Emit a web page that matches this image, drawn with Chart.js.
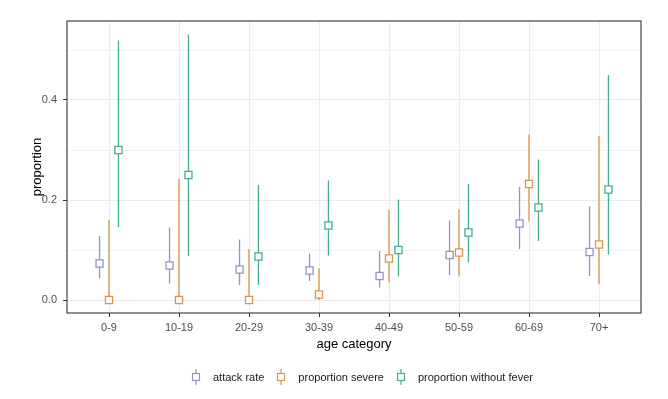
<!DOCTYPE html>
<html>
<head>
<meta charset="utf-8">
<script src="https://cdn.jsdelivr.net/npm/chart.js@4.4.0/dist/chart.umd.min.js"></script>
<style>
  html, body { margin: 0; padding: 0; background: #fff; }
  #wrap { width: 668px; height: 399px; position: relative; }
  #legend { position: absolute; left: 190px; top: 368px; height: 18px; display: flex; align-items: center;
            font-family: "Liberation Sans", Arial, sans-serif; font-size: 11px; color: #1a1a1a; }
  #legend .item { display: flex; align-items: center; margin-right: 11px; }
  #legend canvas { display: block; margin-right: 11px; }
</style>
</head>
<body>
<div id="wrap"><canvas id="ageChart"></canvas><div id="legend"></div></div>
<script>
// data
const ageCats = ["0-9", "10-19", "20-29", "30-39", "40-49", "50-59", "60-69", "70+"];

const attackRate    = [0.073, 0.069, 0.061, 0.059, 0.048, 0.090, 0.153, 0.096];
const attackLow     = [0.043, 0.033, 0.030, 0.038, 0.025, 0.050, 0.102, 0.048];
const attackHigh    = [0.128, 0.145, 0.121, 0.093, 0.098, 0.159, 0.226, 0.187];

const severe        = [0.000, 0.000, 0.000, 0.011, 0.083, 0.095, 0.232, 0.111];
const severeLow     = [0.000, 0.000, 0.000, 0.000, 0.035, 0.047, 0.157, 0.032];
const severeHigh    = [0.160, 0.242, 0.102, 0.063, 0.180, 0.181, 0.331, 0.328];

const noFever       = [0.300, 0.250, 0.087, 0.149, 0.100, 0.135, 0.185, 0.221];
const noFeverLow    = [0.146, 0.088, 0.030, 0.089, 0.047, 0.075, 0.118, 0.091];
const noFeverHigh   = [0.519, 0.531, 0.230, 0.239, 0.201, 0.232, 0.281, 0.450];

const yTicks = [0, 0.1, 0.2, 0.3, 0.4, 0.5];

const series = [
  { name: "attack rate", mid: attackRate, lo: attackLow, hi: attackHigh, color: "#9692C6", dodge: -0.135 },
  { name: "proportion severe", mid: severe, lo: severeLow, hi: severeHigh, color: "#D9954A", dodge: 0 },
  { name: "proportion without fever", mid: noFever, lo: noFeverLow, hi: noFeverHigh, color: "#45AE8E", dodge: 0.135 }
];

// legend key: square with a vertical line through it
const makeKey = (color) => {
  const c = document.createElement("canvas");
  c.width = 12; c.height = 18;
  const g = c.getContext("2d");
  g.strokeStyle = color;
  g.lineWidth = 1.2;
  g.beginPath(); g.moveTo(6, 1); g.lineTo(6, 17); g.stroke();
  g.fillStyle = "#fff";
  g.fillRect(2.5, 5.5, 7, 7);
  g.strokeRect(2.5, 5.5, 7, 7);
  return c;
};

const legendNode = document.getElementById("legend");
series.forEach(s => {
  const item = document.createElement("div");
  item.className = "item";
  item.appendChild(makeKey(s.color));
  const txt = document.createElement("span");
  txt.textContent = s.name;
  item.appendChild(txt);
  legendNode.appendChild(item);
});

const datasets = [];
series.forEach((s, k) => {
  const seg = [];
  ageCats.forEach((c, i) => {
    seg.push({ x: i + 1 + s.dodge, y: s.lo[i] });
    seg.push({ x: i + 1 + s.dodge, y: s.hi[i] });
    seg.push({ x: i + 1 + s.dodge, y: null });
  });
  datasets.push({
    type: "line",
    label: s.name + " range",
    data: seg,
    borderColor: s.color,
    borderWidth: 1.3,
    pointRadius: 0,
    spanGaps: false,
    order: 10 + k
  });
});
series.forEach((s, k) => {
  datasets.push({
    type: "scatter",
    label: s.name,
    data: s.mid.map((v, i) => ({ x: i + 1 + s.dodge, y: v })),
    pointStyle: "rect",
    pointRadius: 5,
    borderWidth: 1.3,
    borderColor: s.color,
    backgroundColor: "#fff",
    order: 1 + k
  });
});

const panelBorder = {
  id: "panelBorder",
  afterDraw(chart) {
    const a = chart.chartArea;
    const ctx = chart.ctx;
    ctx.save();
    ctx.strokeStyle = "#333333";
    ctx.lineWidth = 1.1;
    ctx.strokeRect(a.left, a.top, a.right - a.left, a.bottom - a.top);
    ctx.restore();
  }
};

const ctx = document.getElementById("ageChart");
const chart = new Chart(ctx, {
  data: { datasets: datasets },
  plugins: [panelBorder],
  options: {
    responsive: true,
    maintainAspectRatio: false,
    animation: false,
    layout: { padding: { top: 21, right: 27, left: 30, bottom: 42 } },
    plugins: {
      tooltip: { enabled: false },
      legend: { display: false }
    },
    scales: {
      x: {
        type: "linear",
        min: 0.4,
        max: 8.6,
        afterBuildTicks: (scale) => { scale.ticks = ageCats.map((c, i) => ({ value: i + 1 })); },
        afterFit: (scale) => { scale.height = 44; },
        ticks: {
          callback: (v) => ageCats[Math.round(v) - 1],
          color: "#4D4D4D",
          font: { family: "Liberation Sans, Arial", size: 11 },
          padding: 4,
          maxRotation: 0,
          autoSkip: false
        },
        grid: { color: "#EBEBEB", lineWidth: 1, tickColor: "#333333", tickLength: 4 },
        border: { display: false },
        title: {
          display: true,
          text: "age category",
          color: "#000",
          font: { family: "Liberation Sans, Arial", size: 13 },
          padding: { top: 0, bottom: 5 }
        }
      },
      y: {
        type: "linear",
        min: -0.026,
        max: 0.558,
        afterBuildTicks: (scale) => { scale.ticks = yTicks.map(v => ({ value: v })); },
        afterFit: (scale) => { scale.width = 37; },
        ticks: {
          callback: (v) => (Math.round(v * 10) % 2 === 0 ? v.toFixed(1) : ""),
          color: "#4D4D4D",
          font: { family: "Liberation Sans, Arial", size: 11 },
          padding: 6
        },
        grid: {
          color: "#EBEBEB",
          lineWidth: (c) => (Math.round(c.tick.value * 10) % 2 === 0 ? 1 : 0.6),
          tickColor: (c) => (Math.round(c.tick.value * 10) % 2 === 0 ? "#333333" : "rgba(0,0,0,0)"),
          tickLength: 4
        },
        border: { display: false },
        title: {
          display: true,
          text: "proportion",
          color: "#000",
          font: { family: "Liberation Sans, Arial", size: 13 },
          padding: { top: 0, bottom: 0 }
        }
      }
    }
  }
});
</script>
</body>
</html>
